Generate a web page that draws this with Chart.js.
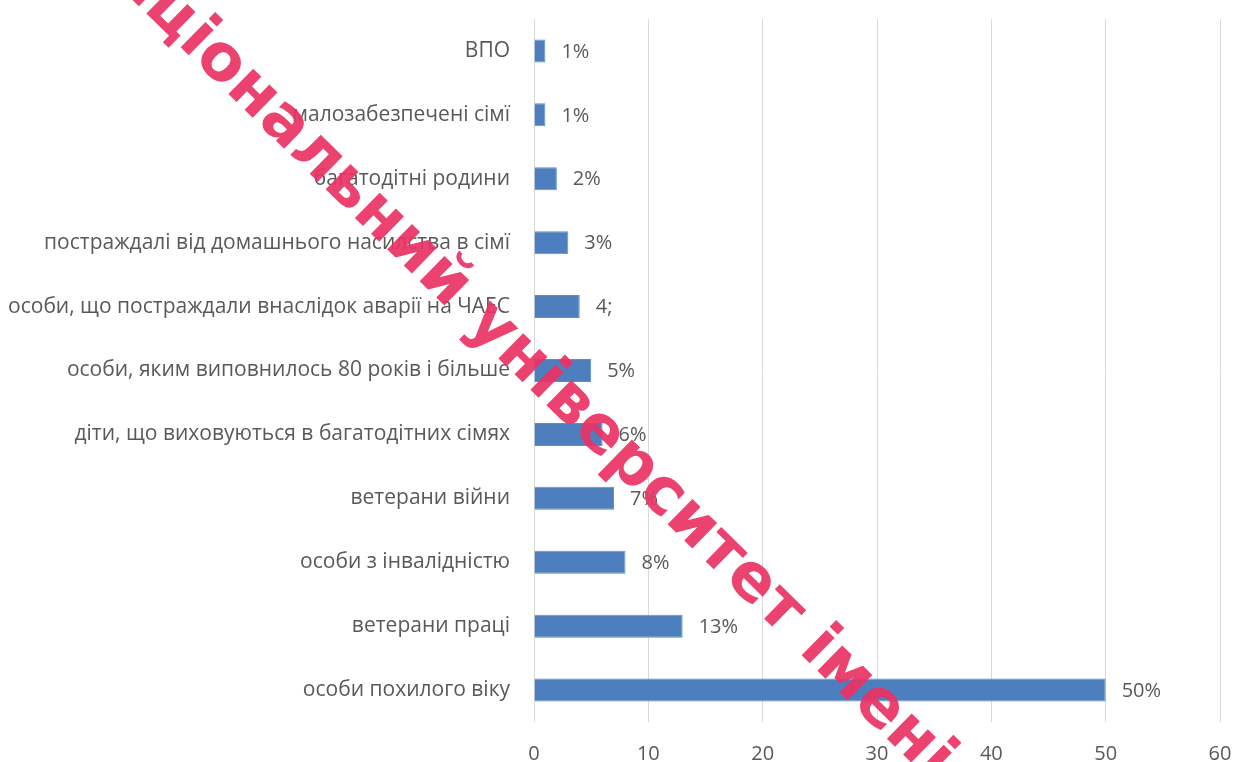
<!DOCTYPE html>
<html>
<head>
<meta charset="utf-8">
<script src="https://cdn.jsdelivr.net/npm/chart.js@4"></script>
<style>
  body { margin: 0; background: #fff; }
  #wrap { width: 1235px; height: 762px; }
</style>
</head>
<body>
<div id="wrap"><canvas id="myChart" width="1235" height="762"></canvas></div>
<script>
var categories = [
    'ВПО',
    'малозабезпечені сімї',
    'багатодітні родини',
    'постраждалі від домашнього насилства в сімї',
    'особи, що постраждали внаслідок аварії на ЧАЕС',
    'особи, яким виповнилось 80 років і більше',
    'діти, що виховуються в багатодітних сімях',
    'ветерани війни',
    'особи з інвалідністю',
    'ветерани праці',
    'особи похилого віку'
];
var values = [1, 1, 2, 3, 4, 5, 6, 7, 8, 13, 50];
var valueLabels = ['1%', '1%', '2%', '3%', '4;', '5%', '6%', '7%', '8%', '13%', '50%'];
var xMin = 0, xMax = 60, xStep = 10;
var watermark = 'Національний університет імені';

var textColor = '#595959';
var fontFamily = '"Open Sans", "Noto Sans", sans-serif';
var stampFont = '"DejaVu Sans", sans-serif';

// value labels to the right of each bar
const barLabels = {
    id: 'barLabels',
    afterDatasetsDraw(chart) {
        const ctx = chart.ctx;
        const meta = chart.getDatasetMeta(0);
        ctx.save();
        ctx.fillStyle = textColor;
        ctx.font = '20px ' + fontFamily;
        ctx.textAlign = 'left';
        ctx.textBaseline = 'middle';
        meta.data.forEach(function(bar, i) {
            ctx.fillText(valueLabels[i], bar.x + 16, bar.y + 1);
        });
        ctx.restore();
    }
};

// red diagonal stamp over the picture
const stamp = {
    id: 'stamp',
    afterDraw(chart) {
        const ctx = chart.ctx;
        ctx.save();
        ctx.font = 'bold 100px ' + stampFont;
        // fit size so that "о" .. "м" span matches the picture
        var o = ctx.measureText('о').width;
        var span = ctx.measureText('ональний університет і').width - o / 2 + ctx.measureText('м').width / 2;
        var size = 100 * 874 / span;
        ctx.font = 'bold ' + size.toFixed(1) + 'px ' + stampFont;
        var a = ctx.measureText('Наці').width;
        o = ctx.measureText('о').width;
        ctx.translate(221, 62);
        ctx.rotate(44.4 * Math.PI / 180);
        ctx.fillStyle = 'rgba(234, 50, 100, 0.92)';
        ctx.textAlign = 'left';
        ctx.textBaseline = 'alphabetic';
        ctx.fillText(watermark, -(a + o / 2), size * 0.273);
        ctx.restore();
    }
};

const ctx = document.getElementById('myChart').getContext('2d');
const myChart = new Chart(ctx, {
    type: 'bar',
    data: {
        labels: categories,
        datasets: [{
            data: values,
            backgroundColor: '#4d7fbf',
            borderColor: '#5b8dcc',
            borderWidth: 1,
            barPercentage: 0.36,
            categoryPercentage: 1
        }]
    },
    options: {
        indexAxis: 'y',
        responsive: false,
        animation: false,
        layout: {
            padding: { top: 19, right: 15, bottom: 0, left: 0 }
        },
        scales: {
            x: {
                min: xMin,
                max: xMax,
                ticks: {
                    stepSize: xStep,
                    color: textColor,
                    padding: 20,
                    font: { size: 20, family: fontFamily }
                },
                grid: {
                    color: '#d9d9d9',
                    drawTicks: false
                },
                border: { display: false },
                afterFit: function(scale) {
                    scale.height = 40;
                    scale.paddingLeft = 0;
                    scale.paddingRight = 0;
                }
            },
            y: {
                ticks: {
                    color: textColor,
                    padding: 24,
                    font: { size: 21, family: fontFamily }
                },
                grid: { display: false, drawTicks: false },
                border: { display: false },
                afterFit: function(scale) {
                    scale.width = 534;
                    scale.paddingTop = 0;
                    scale.paddingBottom = 0;
                }
            }
        },
        plugins: {
            legend: { display: false },
            tooltip: { enabled: false }
        }
    },
    plugins: [barLabels, stamp]
});
</script>
</body>
</html>
